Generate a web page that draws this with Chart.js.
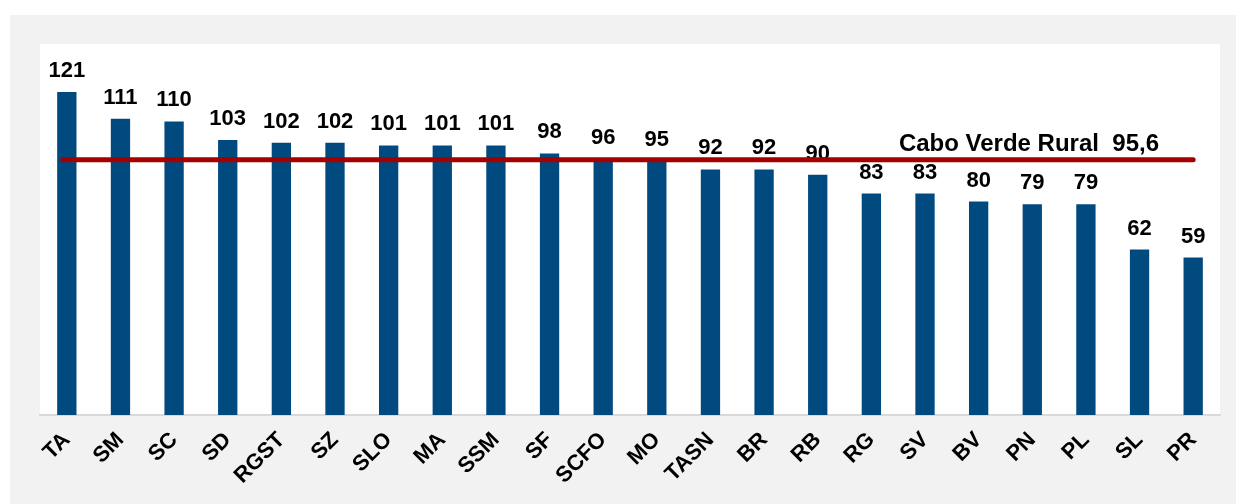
<!DOCTYPE html>
<html>
<head>
<meta charset="utf-8">
<script src="https://cdn.jsdelivr.net/npm/chart.js@4.4.0/dist/chart.umd.min.js"></script>
<style>
  html, body { margin: 0; padding: 0; background: #ffffff; }
  #wrap { width: 1236px; height: 504px; position: relative; }
</style>
</head>
<body>
<div id="wrap"><canvas id="grafico" width="1236" height="504"></canvas></div>
<script>
// categorias (zonas)
const zonas = ['TA', 'SM', 'SC', 'SD', 'RGST', 'SZ', 'SLO', 'MA', 'SSM', 'SF', 'SCFO',
               'MO', 'TASN', 'BR', 'RB', 'RG', 'SV', 'BV', 'PN', 'PL', 'SL', 'PR'];
// valores de cada barra
const valores = [121, 111, 110, 103, 102, 102, 101, 101, 101, 98, 96,
                 95, 92, 92, 90, 83, 83, 80, 79, 79, 62, 59];
// referencia Cabo Verde Rural
const valorRural = 95.6;
const textoRural = 'Cabo Verde Rural  95,6';

const fuente = "'Liberation Sans', Arial, sans-serif";

// fondo gris y area blanca
const fondo = {
    id: 'fondo',
    beforeDraw(chart) {
        const ctx = chart.ctx;
        const a = chart.chartArea;
        ctx.save();
        ctx.fillStyle = '#ffffff';
        ctx.fillRect(0, 0, chart.width, chart.height);
        ctx.fillStyle = '#f2f2f2';
        ctx.fillRect(10, 15, chart.width - 10, chart.height - 15);
        ctx.fillStyle = '#ffffff';
        ctx.fillRect(a.left, a.top, a.right - a.left, a.bottom - a.top);
        ctx.restore();
    }
};

// etiquetas de valor y linea de referencia
const etiquetas = {
    id: 'etiquetas',
    afterDatasetsDraw(chart) {
        const ctx = chart.ctx;
        const meta = chart.getDatasetMeta(0);
        const y = chart.scales.y;
        ctx.save();
        ctx.fillStyle = '#000000';
        ctx.font = 'bold 22px ' + fuente;
        ctx.textAlign = 'center';
        ctx.textBaseline = 'alphabetic';
        meta.data.forEach((barra, i) => {
            ctx.fillText(String(valores[i]), barra.x, barra.y - 15);
        });

        // linea roja
        const yr = y.getPixelForValue(valorRural);
        const x0 = meta.data[0].x - 4;
        const x1 = meta.data[meta.data.length - 1].x;
        ctx.strokeStyle = '#a50000';
        ctx.lineWidth = 5;
        ctx.lineCap = 'round';
        ctx.beginPath();
        ctx.moveTo(x0, yr);
        ctx.lineTo(x1, yr);
        ctx.stroke();

        ctx.font = 'bold 24px ' + fuente;
        ctx.textAlign = 'right';
        ctx.fillText(textoRural, 1159, yr - 9);
        ctx.restore();
    }
};

const ctx = document.getElementById('grafico').getContext('2d');

new Chart(ctx, {
    type: 'bar',
    data: {
        labels: zonas,
        datasets: [{
            data: valores,
            backgroundColor: '#004a80',
            borderWidth: 0,
            categoryPercentage: 1,
            barPercentage: 0.36
        }]
    },
    options: {
        responsive: false,
        animation: false,
        layout: {
            padding: { top: 44, left: 40, right: 16, bottom: 11 }
        },
        plugins: {
            legend: { display: false },
            tooltip: { enabled: false }
        },
        scales: {
            x: {
                grid: { display: false },
                border: { display: true, color: '#d9d9d9', width: 2 },
                ticks: {
                    color: '#000000',
                    font: { family: fuente, size: 22, weight: 'bold' },
                    minRotation: 45,
                    maxRotation: 45,
                    padding: 4,
                    autoSkip: false
                }
            },
            y: {
                display: false,
                min: 0,
                max: 139
            }
        }
    },
    plugins: [fondo, etiquetas]
});
</script>
</body>
</html>
